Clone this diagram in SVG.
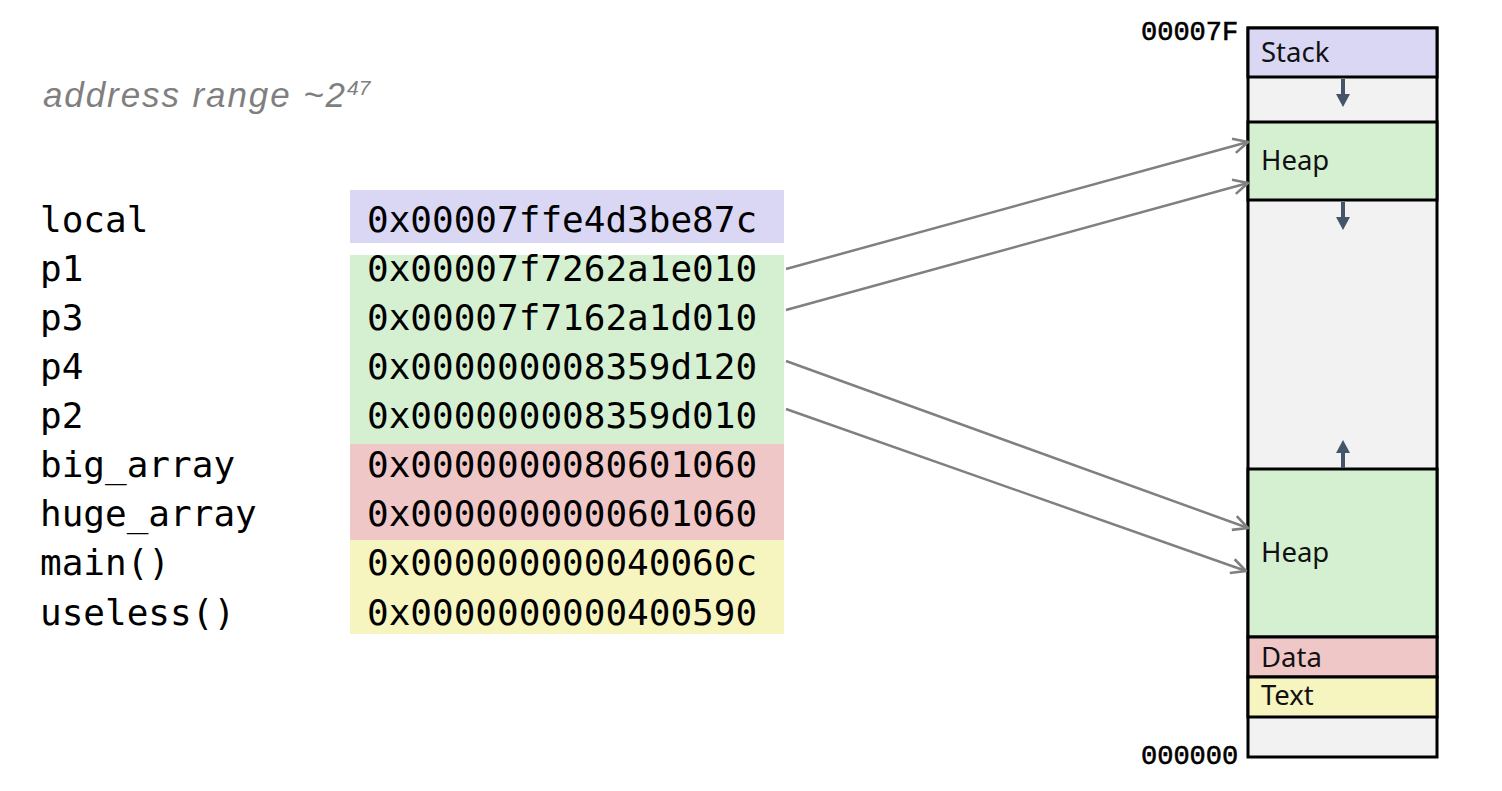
<svg xmlns="http://www.w3.org/2000/svg" width="1502" height="791" viewBox="0 0 1502 791">
<style>
.lbl{font-family:"DejaVu Sans Mono","Liberation Mono",monospace;font-size:36px;fill:#000}
.seg{font-family:"Noto Sans","Liberation Sans",sans-serif;font-size:27.5px;fill:#111}
.addr{font-family:"Liberation Mono","DejaVu Sans Mono",monospace;font-size:27px;fill:#000;stroke:#000;stroke-width:0.6}
.box{stroke:#000;stroke-width:3}
.conn{stroke:#808080;stroke-width:2.5;fill:none;marker-end:url(#open)}
.small{stroke:#44546a;stroke-width:4;fill:none}
.head{fill:#44546a}
</style>
<defs>
<marker id="open" viewBox="0 0 12 12" refX="11" refY="6" markerWidth="7" markerHeight="7" orient="auto" markerUnits="strokeWidth">
<path d="M1,1 L11,6 L1,11" fill="none" stroke="#808080" stroke-width="1.8"/>
</marker>
</defs>
<rect width="1502" height="791" fill="#fff"/>
<g id="title">
<text x="43" y="107" font-family="Liberation Sans, Arial, sans-serif" font-style="italic" font-size="35" fill="#7f7f7f" textLength="302" lengthAdjust="spacing">address range ~2</text>
<text x="347" y="95" font-family="Liberation Sans, Arial, sans-serif" font-style="italic" font-size="21" fill="#7f7f7f">47</text>
</g>
<g id="bands">
<rect x="350" y="190" width="434" height="53" fill="#d9d7f4"/>
<rect x="350" y="255" width="434" height="189" fill="#d5f0d1"/>
<rect x="350" y="444" width="434" height="96" fill="#f0c7c7"/>
<rect x="350" y="540" width="434" height="94" fill="#f6f5c0"/>
</g>
<g id="variables">
<text class="lbl" x="40" y="232">local</text>
<text class="lbl" x="40" y="281">p1</text>
<text class="lbl" x="40" y="330">p3</text>
<text class="lbl" x="40" y="379">p4</text>
<text class="lbl" x="40" y="428">p2</text>
<text class="lbl" x="40" y="477">big_array</text>
<text class="lbl" x="40" y="526">huge_array</text>
<text class="lbl" x="40" y="575">main()</text>
<text class="lbl" x="40" y="625">useless()</text>
</g>
<g id="values">
<text class="lbl" x="367" y="232">0x00007ffe4d3be87c</text>
<text class="lbl" x="367" y="281">0x00007f7262a1e010</text>
<text class="lbl" x="367" y="330">0x00007f7162a1d010</text>
<text class="lbl" x="367" y="379">0x000000008359d120</text>
<text class="lbl" x="367" y="428">0x000000008359d010</text>
<text class="lbl" x="367" y="477">0x0000000080601060</text>
<text class="lbl" x="367" y="526">0x0000000000601060</text>
<text class="lbl" x="367" y="575">0x000000000040060c</text>
<text class="lbl" x="367" y="625">0x0000000000400590</text>
</g>
<g id="memory">
<rect class="box" x="1248" y="28" width="189" height="729" fill="#f2f2f2"/>
<g id="stack"><rect class="box" x="1248" y="28" width="189" height="49" fill="#d9d7f4"/><text class="seg" x="1261" y="62">Stack</text></g>
<g id="heap1"><rect class="box" x="1248" y="122" width="189" height="78" fill="#d5f0d1"/><text class="seg" x="1261" y="170">Heap</text></g>
<g id="heap2"><rect class="box" x="1248" y="469" width="189" height="168" fill="#d5f0d1"/><text class="seg" x="1261" y="562">Heap</text></g>
<g id="data"><rect class="box" x="1248" y="637" width="189" height="40" fill="#f0c7c7"/><text class="seg" x="1261" y="667">Data</text></g>
<g id="textseg"><rect class="box" x="1248" y="677" width="189" height="40" fill="#f6f5c0"/><text class="seg" x="1261" y="705">Text</text></g>
<text class="addr" x="1141" y="40">00007F</text>
<text class="addr" x="1141" y="764">000000</text>
<g id="growth">
<line class="small" x1="1343" y1="79" x2="1343" y2="96"/><path class="head" d="M1336,94 L1350,94 L1343,107 Z"/>
<line class="small" x1="1343" y1="202" x2="1343" y2="219"/><path class="head" d="M1336,217 L1350,217 L1343,230 Z"/>
<line class="small" x1="1343" y1="468" x2="1343" y2="451"/><path class="head" d="M1336,453 L1350,453 L1343,440 Z"/>
</g>
</g>
<g id="connectors">
<line class="conn" x1="786" y1="269" x2="1248" y2="142"/>
<line class="conn" x1="786" y1="310" x2="1248" y2="183"/>
<line class="conn" x1="786" y1="361" x2="1248" y2="528"/>
<line class="conn" x1="786" y1="409" x2="1246" y2="571"/>
</g>
</svg>
